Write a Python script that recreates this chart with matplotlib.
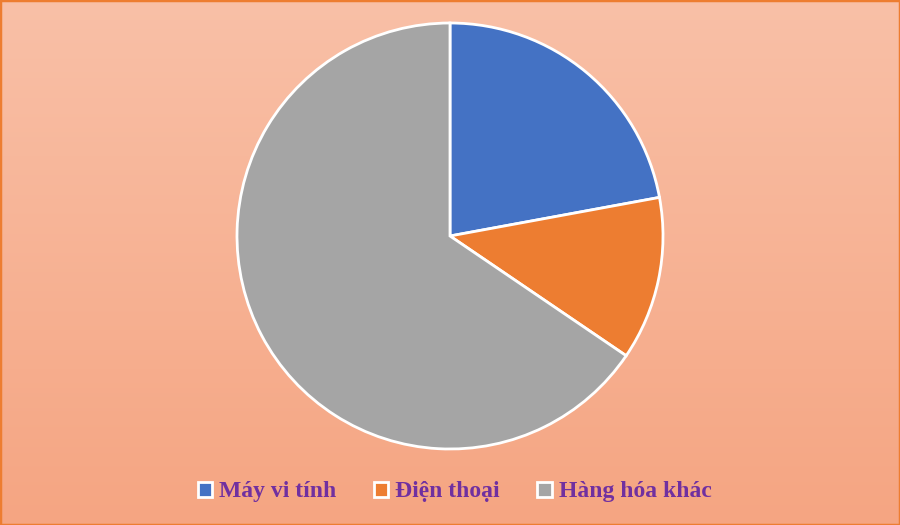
import matplotlib
matplotlib.use("Agg")
import matplotlib.pyplot as plt
import numpy as np
from matplotlib.patches import Rectangle

labels = ["Máy vi tính", "Điện thoại", "Hàng hóa khác"]
values = [22.1, 12.4, 65.5]
colors = ["#4472C4", "#ED7D31", "#A5A5A5"]

fig = plt.figure(figsize=(9, 5.25), dpi=100)

# gradient background
bg = fig.add_axes([0, 0, 1, 1], zorder=0)
top = np.array([249, 192, 167]) / 255
bot = np.array([245, 165, 130]) / 255
t = np.linspace(0, 1, 256)[:, None]
grad = top[None, :] * (1 - t) + bot[None, :] * t
bg.imshow(grad[:, None, :], aspect="auto", extent=[0, 1, 0, 1])
bg.set_axis_off()

# pie centred at (450, 236) px with radius ~213 px
r = 213
cx, cy = 450, 525 - 236
ax = fig.add_axes([(cx - r) / 900, (cy - r) / 525, 2 * r / 900, 2 * r / 525], zorder=1)
wedges, _ = ax.pie(values, colors=colors, startangle=90, counterclock=False,
                   wedgeprops=dict(edgecolor="white", linewidth=2))
ax.set_aspect("auto")
ax.set_xlim(-1.0, 1.0)
ax.set_ylim(-1.0, 1.0)

handles = [Rectangle((0, 0), 1, 1, facecolor=c, edgecolor="white", linewidth=2) for c in colors]
leg = fig.legend(handles, labels, loc="center", bbox_to_anchor=(0.505, 0.063), ncol=3,
                 frameon=False, handlelength=0.6, handleheight=0.6, handletextpad=0.3,
                 columnspacing=1.6,
                 prop=dict(family="Liberation Serif", weight="bold", size=17))
for txt in leg.get_texts():
    txt.set_color("#7030A0")

# orange border
fig.patches.append(Rectangle((0, 0), 1, 1, transform=fig.transFigure, fill=False,
                             edgecolor="#ED7D31", linewidth=2.5, zorder=5))

fig.savefig("out.png", dpi=100)
